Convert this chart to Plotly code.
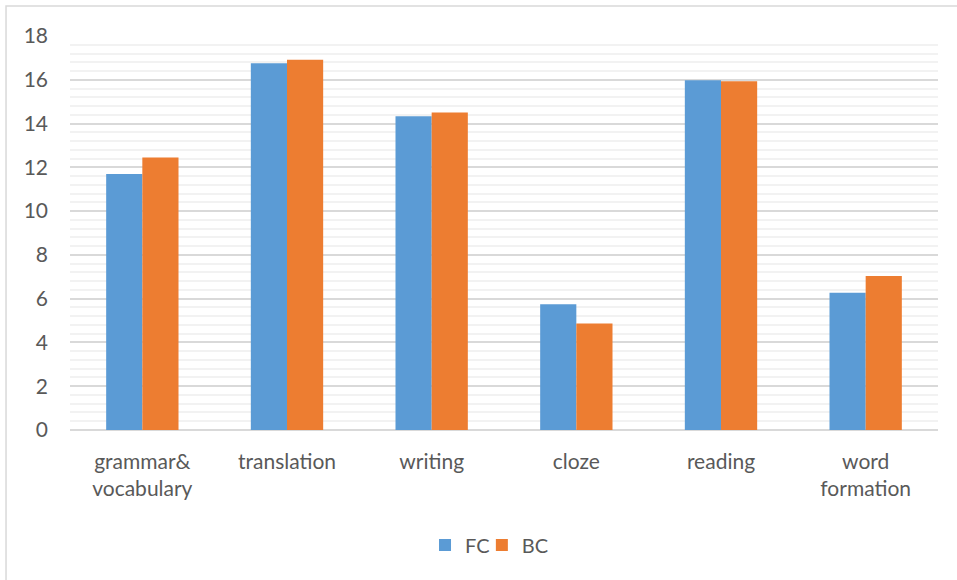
import plotly.graph_objects as go

categories = ["grammar&<br>vocabulary", "translation", "writing", "cloze", "reading", "word<br>formation"]
fc_values = [11.7, 16.75, 14.33, 5.75, 15.98, 6.27]
bc_values = [12.45, 16.92, 14.5, 4.87, 15.93, 7.03]
y_ticks = [0, 2, 4, 6, 8, 10, 12, 14, 16, 18]

FONT = "Lato"
GREY = "#595959"

fig = go.Figure()
fig.add_trace(go.Bar(name="FC", x=categories, y=fc_values, legend="legend",
                     marker=dict(color="#5b9bd5", line=dict(width=0))))
fig.add_trace(go.Bar(name="BC", x=categories, y=bc_values, legend="legend2",
                     marker=dict(color="#ed7d31", line=dict(width=0))))

# chart border (left and top edges of the frame)
fig.add_shape(type="path", xref="paper", yref="paper",
              path="M -0.0737,-0.40 L -0.0737,1.0761 L 1.03,1.0761",
              line=dict(color="#d9d9d9", width=1.5))

legend_style = dict(orientation="h", xanchor="left", y=-0.292, yanchor="middle",
                    bgcolor="rgba(0,0,0,0)",
                    font=dict(family=FONT, size=20, color=GREY), itemwidth=30)

fig.update_layout(
    width=957, height=580,
    margin=dict(l=70, r=19, t=36, b=150),
    paper_bgcolor="white", plot_bgcolor="white",
    barmode="group", bargap=0.5, bargroupgap=0,
    font=dict(family=FONT, size=21, color=GREY),
    showlegend=True,
    legend=dict(x=0.409, **legend_style),
    legend2=dict(x=0.4745, **legend_style),
    xaxis=dict(showgrid=False, showline=False, ticks="", ticklabelstandoff=17,
               tickfont=dict(size=21, color=GREY)),
    yaxis=dict(range=[0, 18], tickvals=y_ticks, showgrid=True, gridcolor="#d9d9d9", gridwidth=1.5,
               zeroline=True, zerolinecolor="#d9d9d9", zerolinewidth=1.5,
               minor=dict(dtick=0.4, showgrid=True, gridcolor="#f2f2f2", gridwidth=1.5),
               ticklabelstandoff=21, tickfont=dict(size=21, color=GREY)),
)

fig.write_html("out.html")
